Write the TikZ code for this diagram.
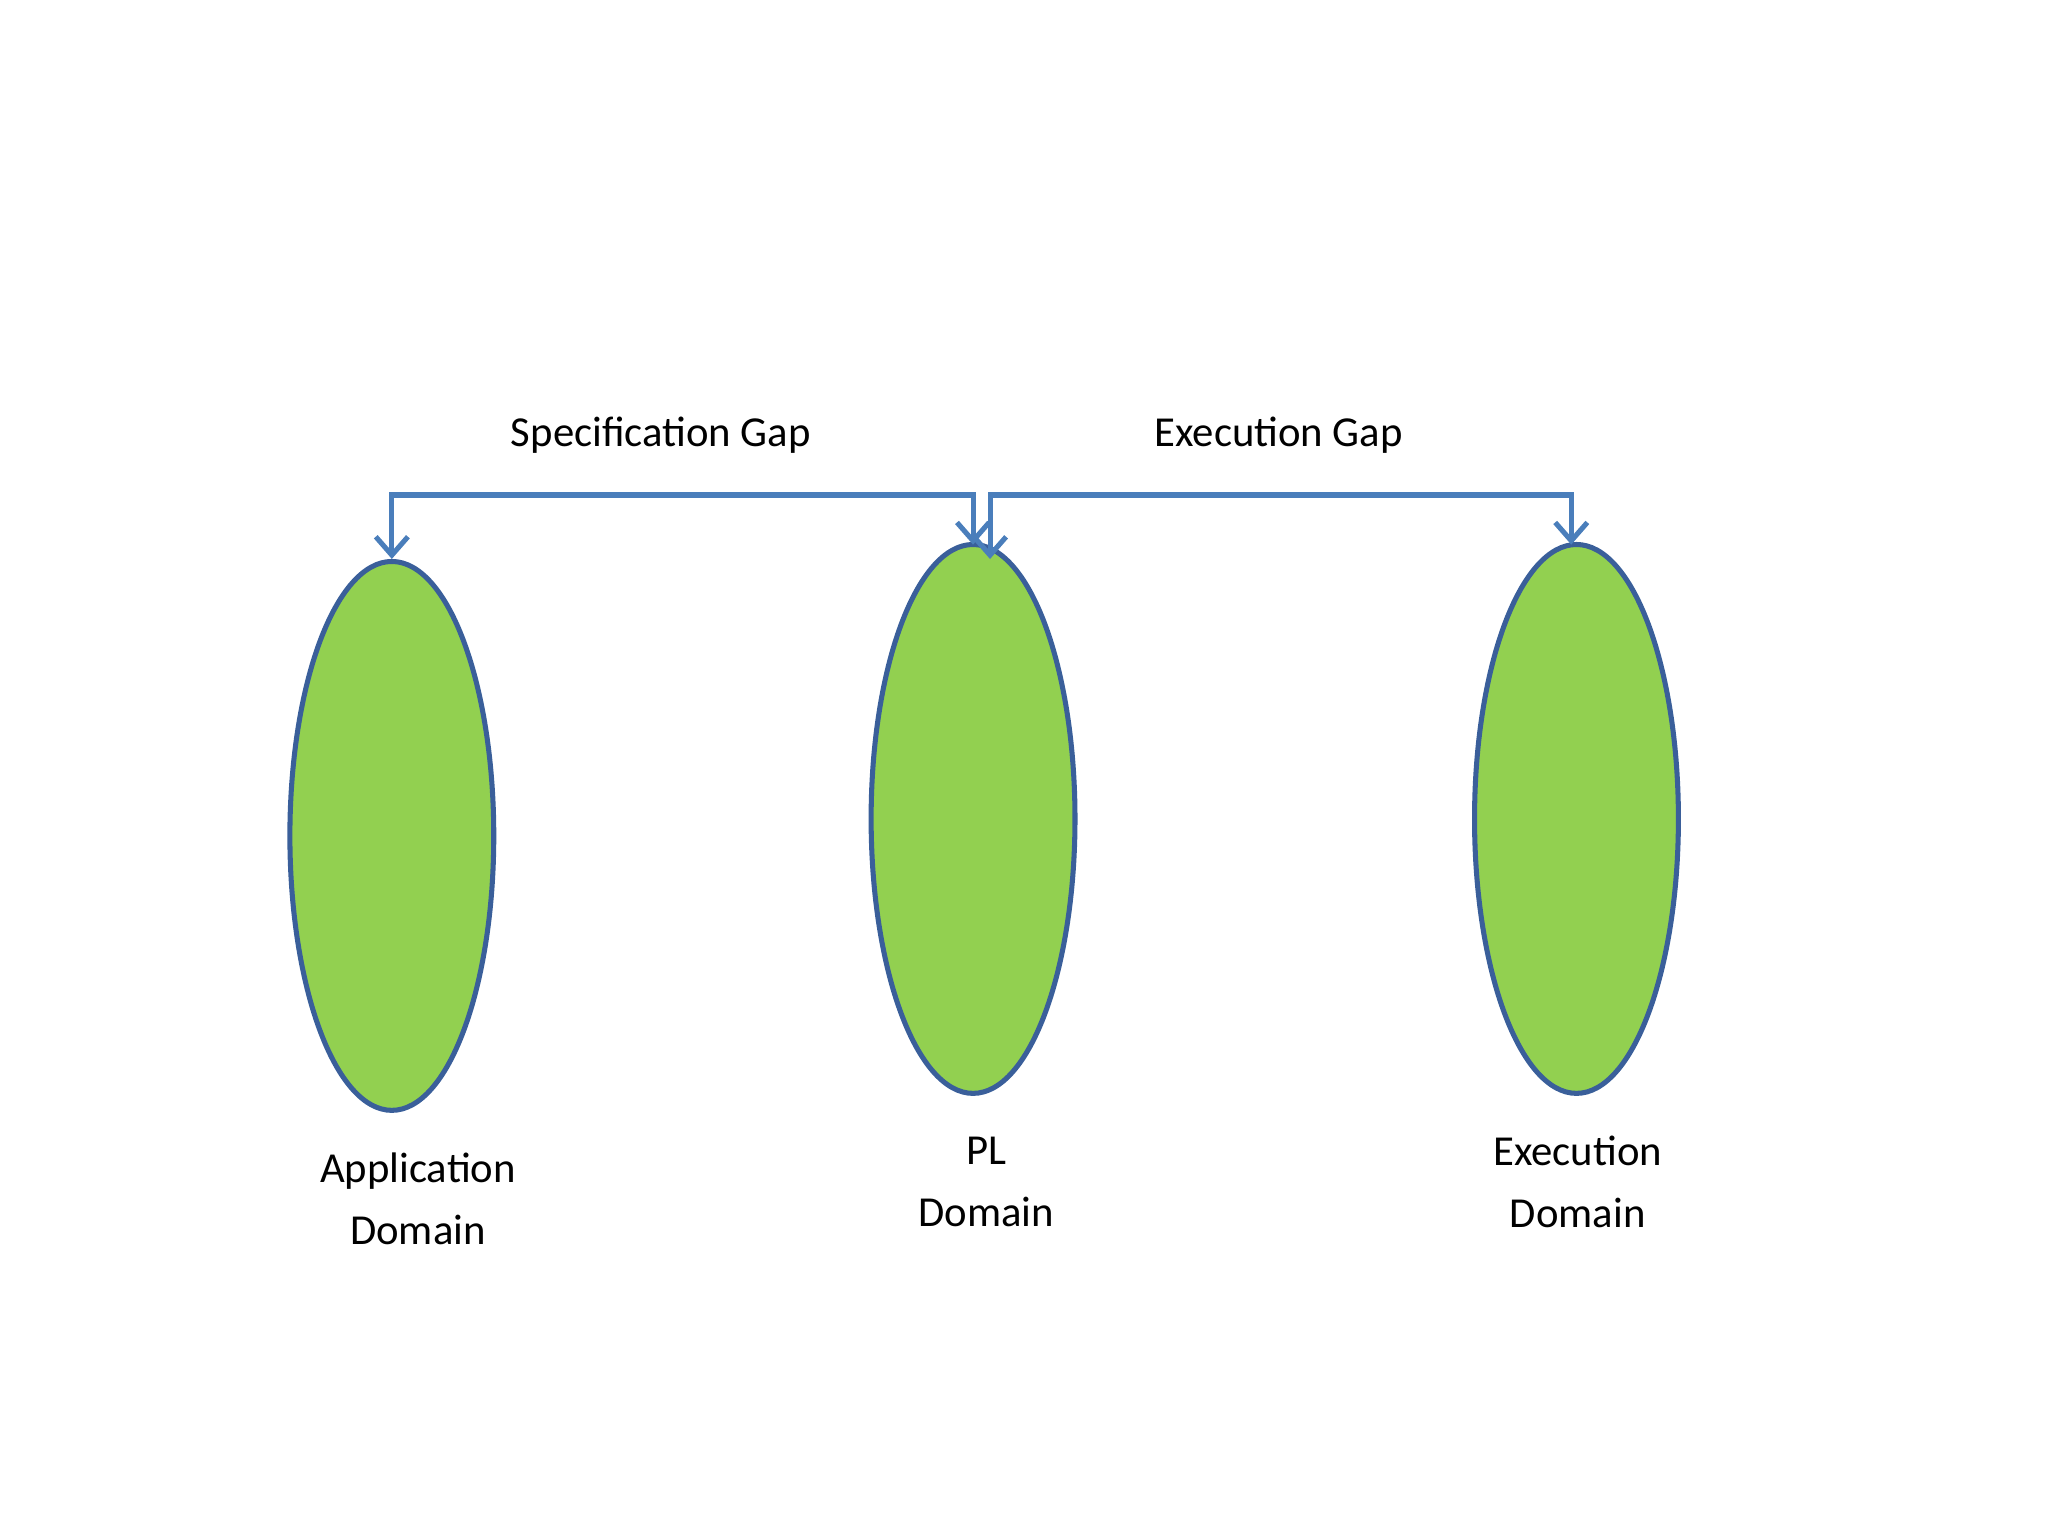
\documentclass[tikz,border=0pt]{standalone}
\usepackage{fontspec}
\setmainfont{Carlito}
\usetikzlibrary{shapes.geometric,arrows.meta}
\definecolor{fillg}{HTML}{92D050}
\definecolor{edgeb}{HTML}{3A5F9A}
\definecolor{arrb}{HTML}{4A7EBB}
\begin{document}
\begin{tikzpicture}[x=0.01cm,y=-0.01cm,
  dom/.style={ellipse,draw=edgeb,fill=fillg,line width=1.1pt,minimum width=1.56cm,minimum height=4.2cm,inner sep=0pt},
  lbl/.style={font=\fontsize{9.3pt}{13.4pt}\selectfont,align=center},
  gap/.style={arrb,line width=1.1pt,{Straight Barb[length=4pt,width=7pt]}-{Straight Barb[length=4pt,width=7pt]}}]
\useasboundingbox (0,0) rectangle (1568,1176);
\node[dom] (app) at (300,640) {};
\node[dom] (pl) at (745,627) {};
\node[dom] (exe) at (1207,627) {};
\coordinate (pl1) at (745,417);
\coordinate (pl2) at (758,428);
\coordinate (ex1) at (1203,417);
\coordinate (top) at (0,379);
\draw[gap] (pl1) |- (top -| app.north) -- (app.north);
\draw[gap] (pl2) |- (top -| ex1) -- (ex1);
\node[lbl] (t1) at (506,333) {Specification Gap};
\node[lbl] (t2) at (979,333) {Execution Gap};
\node[lbl] (l1) at (320,918) {Application\\Domain};
\node[lbl] (l2) at (755,905) {PL\\Domain};
\node[lbl] (l3) at (1208,905) {Execution\\Domain};
\end{tikzpicture}
\end{document}
